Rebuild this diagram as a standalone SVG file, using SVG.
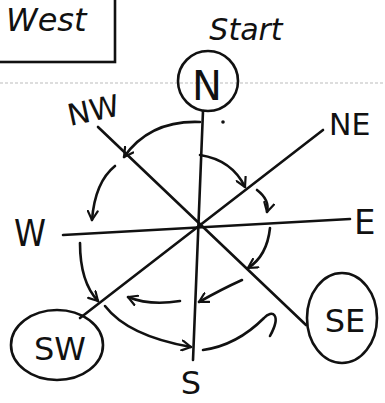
<svg xmlns="http://www.w3.org/2000/svg" width="385" height="403" viewBox="0 0 385 403">
<defs>
<marker id="ah" viewBox="0 0 12 12" refX="10" refY="6" markerWidth="12" markerHeight="12" markerUnits="userSpaceOnUse" orient="auto">
<polyline points="1,1 10,6 1,11" fill="none" stroke="#111" stroke-width="2.2" stroke-linecap="round" stroke-linejoin="round"/>
</marker>
</defs>
<style>
.ln{stroke:#111;stroke-width:2.6;fill:none;stroke-linecap:round}
.arc{stroke:#111;stroke-width:2.6;fill:none;stroke-linecap:round;marker-end:url(#ah)}
.ring{stroke:#111;stroke-width:2.6;fill:none}
.lbl{font-family:"DejaVu Sans",sans-serif;fill:#111}
</style>
<rect width="385" height="403" fill="#fff"/>
<line x1="0" y1="83" x2="385" y2="83" stroke="#bbb" stroke-width="1" stroke-dasharray="3,2"/>
<g id="box-west">
<rect x="-3" y="-3" width="118" height="65" class="ring"/>
<text x="6" y="31" class="lbl" font-size="32" font-style="italic">West</text>
</g>
<g id="connectors">
<line x1="203" y1="111" x2="193" y2="360" class="ln"/>
<line x1="63" y1="235" x2="350" y2="219" class="ln"/>
<line x1="323" y1="130" x2="80" y2="318" class="ln"/>
<line x1="98" y1="127" x2="306" y2="325" class="ln"/>
<path d="M200,122 Q150,120 124,157" class="arc"/>
<path d="M115,166 Q95,182 92,220" class="arc"/>
<path d="M80,243 Q80,282 98,301" class="arc"/>
<path d="M105,306 Q128,336 191,347" class="arc"/>
<path d="M203,350 C232,346 252,330 264,318 C272,309 282,314 270,336" class="ln"/>
<path d="M180,301 Q150,306 128,297" class="arc"/>
<path d="M242,280 Q222,289 199,302" class="arc"/>
<path d="M270,228 Q267,256 248,268" class="arc"/>
<path d="M257,190 Q270,200 267,212" class="arc"/>
<path d="M200,155 Q232,160 245,187" class="arc"/>
<circle cx="223" cy="122" r="1.8" fill="#111"/>
</g>
<g id="node-N">
<text x="246" y="40" class="lbl" font-size="30" font-style="italic" text-anchor="middle">Start</text>
<ellipse cx="208" cy="81" rx="30" ry="30" class="ring"/>
<text x="207" y="100" class="lbl" font-size="40" text-anchor="middle">N</text>
</g>
<g id="node-NW">
<text x="70" y="126" class="lbl" font-size="30" transform="rotate(-12 70 126)">NW</text>
</g>
<g id="node-NE">
<text x="329" y="135" class="lbl" font-size="30">NE</text>
</g>
<g id="node-W">
<text x="14" y="246" class="lbl" font-size="38" textLength="32" lengthAdjust="spacingAndGlyphs">W</text>
</g>
<g id="node-E">
<text x="354" y="234" class="lbl" font-size="34">E</text>
</g>
<g id="node-SW">
<ellipse cx="57" cy="345" rx="46" ry="35" class="ring"/>
<text x="60" y="360" class="lbl" font-size="32" text-anchor="middle">SW</text>
</g>
<g id="node-S">
<text x="191" y="394" class="lbl" font-size="32" text-anchor="middle">S</text>
</g>
<g id="node-SE">
<ellipse cx="342" cy="318" rx="35" ry="45" class="ring"/>
<text x="345" y="332" class="lbl" font-size="32" text-anchor="middle">SE</text>
</g>
</svg>
